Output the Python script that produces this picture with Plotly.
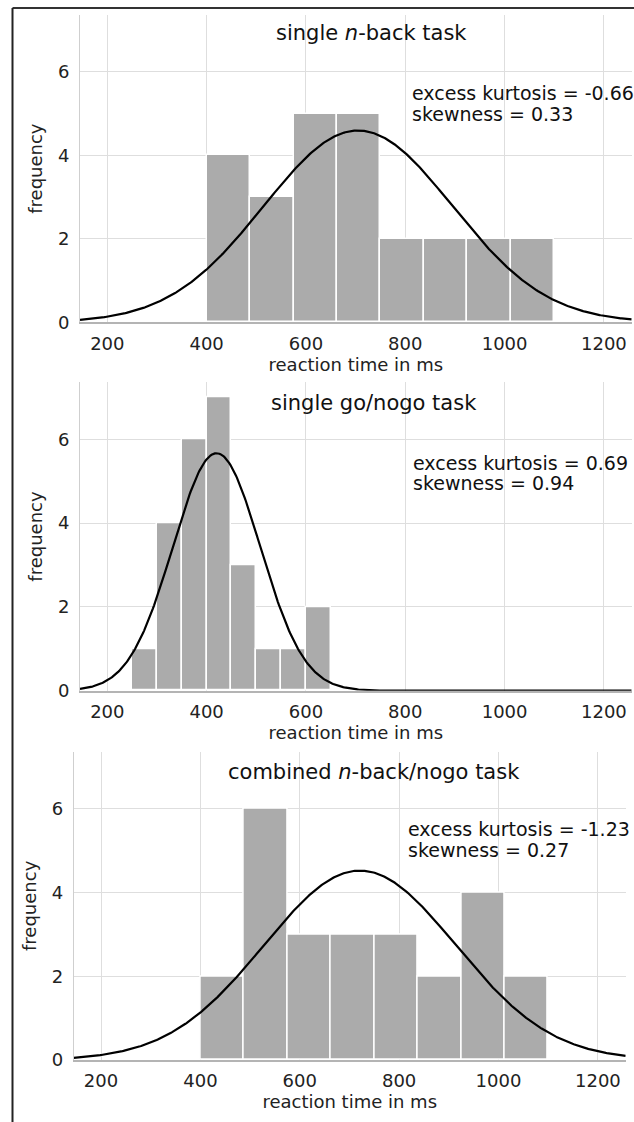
import numpy as np
import plotly.graph_objects as go

W, H = 634, 1122

# ---------------- data ----------------
panel_titles = ["single <i>n</i>-back task", "single go/nogo task",
                "combined <i>n</i>-back/nogo task"]
kurtosis_labels = ["excess kurtosis = -0.66", "excess kurtosis = 0.69",
                   "excess kurtosis = -1.23"]
skewness_labels = ["skewness = 0.33", "skewness = 0.94", "skewness = 0.27"]

nback_bin_start = 400
nback_bin_width = 87.5
nback_counts = [4, 3, 5, 5, 2, 2, 2, 2]

gonogo_bin_start = 250
gonogo_bin_width = 50
gonogo_counts = [1, 4, 6, 7, 3, 1, 1, 2]

combined_bin_start = 400
combined_bin_width = 87.5
combined_counts = [2, 6, 3, 3, 3, 2, 4, 2]

# fitted normal curves (mean, sd in ms)
nback_mean, nback_sd = 705, 190
gonogo_mean, gonogo_sd = 420, 88
combined_mean, combined_sd = 721, 193

x_ticks = [200, 400, 600, 800, 1000, 1200]
y_ticks = [0, 2, 4, 6]
x_title = "reaction time in ms"
y_title = "frequency"

# ---------------- layout geometry (pixels) ----------------
panels = [
    dict(start=nback_bin_start, width=nback_bin_width, counts=nback_counts,
         mean=nback_mean, sd=nback_sd,
         xdom=(80, 631.7), ydom=(15, 322.3),
         title_xy=(371, 33), ann_xy=(410, 93.3, 114)),
    dict(start=gonogo_bin_start, width=gonogo_bin_width, counts=gonogo_counts,
         mean=gonogo_mean, sd=gonogo_sd,
         xdom=(80, 631.7), ydom=(382.3, 690.7),
         title_xy=(374, 403), ann_xy=(411, 463, 483)),
    dict(start=combined_bin_start, width=combined_bin_width, counts=combined_counts,
         mean=combined_mean, sd=combined_sd,
         xdom=(73.7, 625.7), ydom=(751.7, 1060),
         title_xy=(374.3, 771.7), ann_xy=(405.7, 829.3, 850)),
]

x_range = [145, 1256]
y_range = [0, 7.36]
FONT = "DejaVu Sans"
bar_color = "#ababab"
grid_color = "#dedede"

fig = go.Figure()
annotations = []

for i, p in enumerate(panels):
    sfx = "" if i == 0 else str(i + 1)
    xa, ya = "x" + sfx, "y" + sfx
    counts = np.array(p["counts"], dtype=float)
    centers = p["start"] + p["width"] * (np.arange(len(counts)) + 0.5)
    fig.add_trace(go.Bar(
        x=centers, y=counts, width=[p["width"]] * len(counts),
        marker=dict(color=bar_color, line=dict(color="white", width=1.5)),
        xaxis=xa, yaxis=ya, showlegend=False, hoverinfo="x+y"))
    n = counts.sum()
    xs = np.linspace(x_range[0], x_range[1], 500)
    ys = n * p["width"] / (p["sd"] * np.sqrt(2 * np.pi)) * np.exp(
        -0.5 * ((xs - p["mean"]) / p["sd"]) ** 2)
    fig.add_trace(go.Scatter(
        x=xs, y=ys, mode="lines", line=dict(color="black", width=2.2),
        xaxis=xa, yaxis=ya, showlegend=False, hoverinfo="skip"))

    x0, x1 = p["xdom"]
    yt, yb = p["ydom"]
    fig.layout["xaxis" + sfx] = dict(
        domain=[x0 / W, x1 / W], anchor=ya, range=x_range,
        tickvals=x_ticks, showgrid=True, gridcolor=grid_color, gridwidth=1,
        zeroline=False, showline=True, linecolor="#b4b4b4", linewidth=1.5,
        ticks="", ticklabelstandoff=4,
        tickfont=dict(family=FONT, size=18, color="#222"),
        title=dict(text=x_title, standoff=3,
                   font=dict(family=FONT, size=18, color="#222")),
        automargin=False, fixedrange=True)
    fig.layout["yaxis" + sfx] = dict(
        domain=[1 - yb / H, 1 - yt / H], anchor=xa, range=y_range,
        tickvals=y_ticks, showgrid=True, gridcolor=grid_color, gridwidth=1,
        zeroline=False, showline=True, linecolor="#cfcfcf", linewidth=1,
        ticks="", ticklabelstandoff=6,
        tickfont=dict(family=FONT, size=18, color="#222"),
        title=dict(text=y_title, standoff=10,
                   font=dict(family=FONT, size=18, color="#222")),
        automargin=False, fixedrange=True)

    tx, ty = p["title_xy"]
    annotations.append(dict(
        text=panel_titles[i], x=tx / W, y=1 - ty / H, xref="paper", yref="paper",
        xanchor="center", yanchor="middle", showarrow=False,
        font=dict(family=FONT, size=21, color="#111")))
    ax, ay1, ay2 = p["ann_xy"]
    annotations.append(dict(
        text=kurtosis_labels[i], x=ax / W, y=1 - ay1 / H, xref="paper", yref="paper",
        xanchor="left", yanchor="middle", showarrow=False,
        font=dict(family=FONT, size=19, color="#111")))
    annotations.append(dict(
        text=skewness_labels[i], x=ax / W, y=1 - ay2 / H, xref="paper", yref="paper",
        xanchor="left", yanchor="middle", showarrow=False,
        font=dict(family=FONT, size=19, color="#111")))

# figure frame (top and left edges)
shapes = [
    dict(type="line", xref="paper", yref="paper", x0=12.5 / W, x1=1,
         y0=1 - 8 / H, y1=1 - 8 / H, line=dict(color="#333", width=2)),
    dict(type="line", xref="paper", yref="paper", x0=12.5 / W, x1=12.5 / W,
         y0=0, y1=1 - 8 / H, line=dict(color="#222", width=2)),
]

fig.update_layout(
    template="none", width=W, height=H,
    margin=dict(l=0, r=0, t=0, b=0, pad=0),
    paper_bgcolor="white", plot_bgcolor="white",
    bargap=0, annotations=annotations, shapes=shapes,
    font=dict(family=FONT, color="#222"), showlegend=False)

fig.write_html("out.html")
